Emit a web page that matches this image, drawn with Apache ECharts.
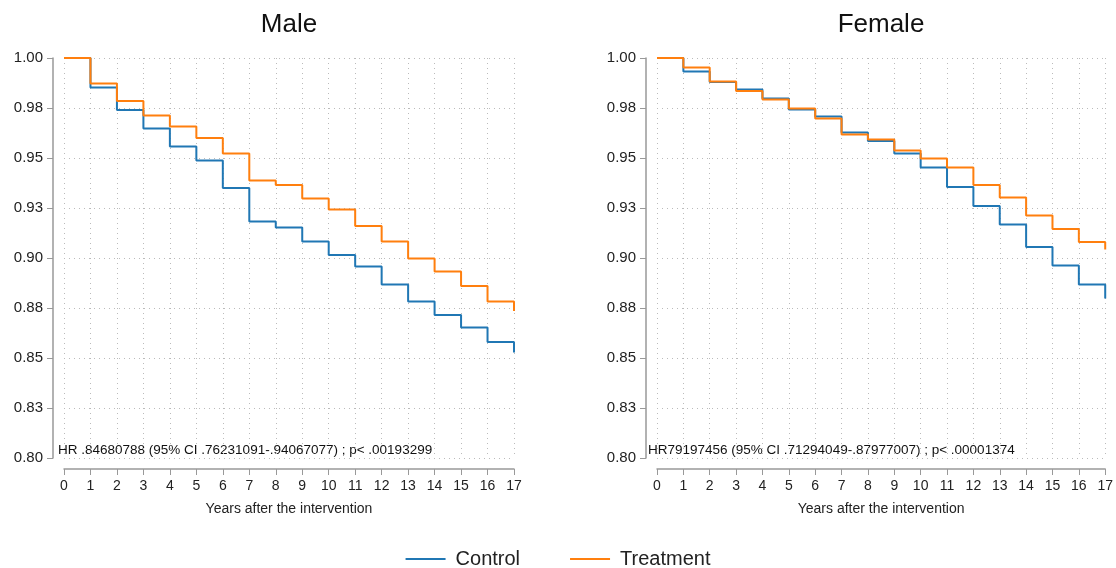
<!DOCTYPE html>
<html>
<head>
<meta charset="utf-8">
<script src="https://cdn.jsdelivr.net/npm/echarts@6/dist/echarts.min.js"></script>
<style>html,body{margin:0;padding:0;background:#fff}#c{width:1116px;height:568px}</style>
</head>
<body>
<div id="c"></div>
<script>
const years = [0,1,2,3,4,5,6,7,8,9,10,11,12,13,14,15,16,17];
const yTickLabels = ['0.80','0.83','0.85','0.88','0.90','0.93','0.95','0.98','1.00'];
const maleControl   = [1, 0.9852, 0.9740, 0.9647, 0.9557, 0.9487, 0.9350, 0.9183, 0.9152, 0.9082, 0.9015, 0.8957, 0.8868, 0.8782, 0.8715, 0.8652, 0.8580, 0.8527];
const maleTreatment = [1, 0.9873, 0.9785, 0.9713, 0.9658, 0.9600, 0.9522, 0.9387, 0.9365, 0.9297, 0.9243, 0.9160, 0.9082, 0.8998, 0.8932, 0.8860, 0.8783, 0.8735];
const femaleControl   = [1, 0.9932, 0.9880, 0.9842, 0.9798, 0.9742, 0.9707, 0.9628, 0.9585, 0.9523, 0.9452, 0.9355, 0.9260, 0.9168, 0.9055, 0.8962, 0.8868, 0.8798];
const femaleTreatment = [1, 0.9953, 0.9882, 0.9835, 0.9793, 0.9748, 0.9697, 0.9618, 0.9592, 0.9537, 0.9497, 0.9452, 0.9365, 0.9303, 0.9213, 0.9145, 0.9080, 0.9043];
const panelTitles = ['Male', 'Female'];
const annotations = [
  'HR .84680788 (95% CI .76231091-.94067077) ; p< .00193299',
  'HR79197456 (95% CI .71294049-.87977007) ; p< .00001374'
];
const xAxisName = 'Years after the intervention';
const seriesNames = ['Control', 'Treatment'];

const FONT = '"Liberation Sans", Arial, Helvetica, sans-serif';
const BLUE = '#2077b4';
const ORANGE = '#ff7f0e';

const grids = [
  {left: 64, right: 602, top: 58, bottom: 110},
  {left: 657, right: 10, top: 58, bottom: 110}
];

function xAx(i) {
  return {
    gridIndex: i, type: 'value', min: 0, max: 17, interval: 1, offset: 11,
    name: xAxisName, nameLocation: 'middle', nameGap: 33,
    nameTextStyle: {fontSize: 14, color: '#222', fontFamily: FONT},
    axisLine: {show: true, onZero: false, lineStyle: {color: '#999', width: 1.5}},
    axisTick: {show: true, length: 6, lineStyle: {color: '#999'}},
    axisLabel: {fontSize: 14, color: '#222', fontFamily: FONT, margin: 10},
    splitLine: {show: true, lineStyle: {color: '#bbb', type: [1, 4], width: 1}}
  };
}
function yAx(i) {
  return {
    gridIndex: i, type: 'value', min: 0.8, max: 1.0, interval: 0.025, offset: 11,
    axisLine: {show: true, onZero: false, lineStyle: {color: '#999', width: 1.5}},
    axisTick: {show: true, length: 6, lineStyle: {color: '#999'}},
    axisLabel: {fontSize: 15, color: '#222', fontFamily: FONT, margin: 10,
      formatter: (v, idx) => yTickLabels[idx]},
    splitLine: {show: true, lineStyle: {color: '#bbb', type: [1, 4], width: 1}}
  };
}
function ser(name, arr, gi, color) {
  return {
    name: name, type: 'line', step: 'end', xAxisIndex: gi, yAxisIndex: gi,
    symbol: 'none', data: years.map((x, k) => [x, arr[k]]),
    lineStyle: {color: color, width: 2}, itemStyle: {color: color},
    animation: false
  };
}

const chart = echarts.init(document.getElementById('c'), null, {renderer: 'canvas'});
chart.setOption({
  animation: false,
  backgroundColor: '#fff',
  textStyle: {fontFamily: FONT},
  grid: grids,
  xAxis: [xAx(0), xAx(1)],
  yAxis: [yAx(0), yAx(1)],
  legend: {
    data: seriesNames, top: 544, left: 'center', itemWidth: 40, itemHeight: 2, icon: 'rect',
    itemGap: 50, textStyle: {fontSize: 20, color: '#222', fontFamily: FONT, padding: [0, 0, 0, 5]}
  },
  graphic: [
    {type: 'text', x: 289, y: 25, style: {text: panelTitles[0], fontSize: 26, fontFamily: FONT, fill: '#111', align: 'center', verticalAlign: 'middle'}},
    {type: 'text', x: 881, y: 25, style: {text: panelTitles[1], fontSize: 26, fontFamily: FONT, fill: '#111', align: 'center', verticalAlign: 'middle'}},
    {type: 'text', x: 58, y: 450, style: {text: annotations[0], fontSize: 13.5, fontFamily: FONT, fill: '#111', align: 'left', verticalAlign: 'middle'}},
    {type: 'text', x: 648, y: 450, style: {text: annotations[1], fontSize: 13.5, fontFamily: FONT, fill: '#111', align: 'left', verticalAlign: 'middle'}}
  ],
  series: [
    ser(seriesNames[0], maleControl, 0, BLUE),
    ser(seriesNames[1], maleTreatment, 0, ORANGE),
    ser(seriesNames[0], femaleControl, 1, BLUE),
    ser(seriesNames[1], femaleTreatment, 1, ORANGE)
  ]
});
</script>
</body>
</html>
